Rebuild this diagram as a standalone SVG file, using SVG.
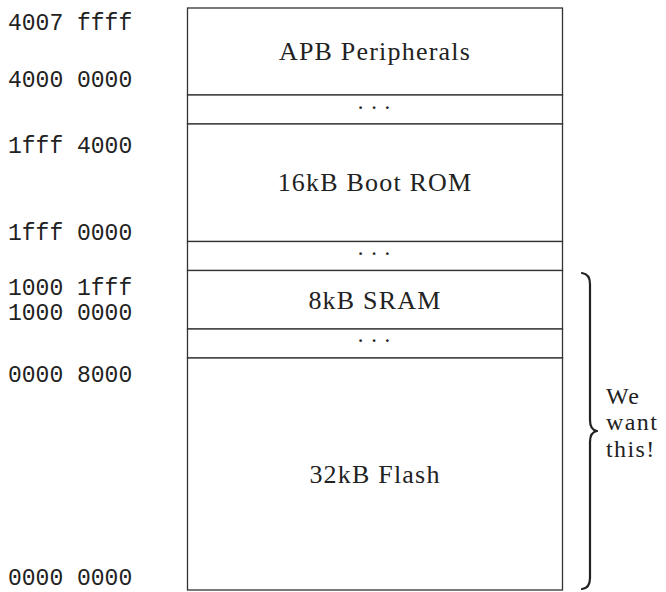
<svg xmlns="http://www.w3.org/2000/svg" width="666" height="592" viewBox="0 0 666 592">
<style>
.addr{font-family:"Liberation Mono","DejaVu Sans Mono",monospace;font-size:23px;fill:#222}
.lbl{font-family:"Liberation Serif","DejaVu Serif",serif;font-size:26px;letter-spacing:1.2px;fill:#222;text-anchor:middle}
.dots{font-family:"Liberation Serif","DejaVu Serif",serif;font-size:23px;fill:#222;text-anchor:middle}
.side{font-family:"Liberation Serif","DejaVu Serif",serif;font-size:24px;letter-spacing:1.4px;fill:#222}
.cell{fill:#fff;stroke:#333;stroke-width:1.3}
.brace{fill:none;stroke:#222;stroke-width:2.2;stroke-linecap:round;stroke-linejoin:round}
</style>
<rect width="666" height="592" fill="#fff"/>
<g id="addresses">
<text class="addr" x="8" y="29.5">4007 ffff</text>
<text class="addr" x="8" y="87">4000 0000</text>
<text class="addr" x="8" y="152.5">1fff 4000</text>
<text class="addr" x="8" y="239.5">1fff 0000</text>
<text class="addr" x="8" y="295">1000 1fff</text>
<text class="addr" x="8" y="320">1000 0000</text>
<text class="addr" x="8" y="382">0000 8000</text>
<text class="addr" x="8" y="585">0000 0000</text>
</g>
<g id="apb"><rect class="cell" x="187.5" y="8" width="375" height="87"/><text class="lbl" x="375" y="60">APB Peripherals</text></g>
<g id="gap1"><rect class="cell" x="187.5" y="95" width="375" height="29"/><text class="dots" x="374" y="115">· · ·</text></g>
<g id="bootrom"><rect class="cell" x="187.5" y="124" width="375" height="117.5"/><text class="lbl" x="375" y="191">16kB Boot ROM</text></g>
<g id="gap2"><rect class="cell" x="187.5" y="241.5" width="375" height="29"/><text class="dots" x="374" y="261">· · ·</text></g>
<g id="sram"><rect class="cell" x="187.5" y="270.5" width="375" height="58.5"/><text class="lbl" x="375" y="309">8kB SRAM</text></g>
<g id="gap3"><rect class="cell" x="187.5" y="329" width="375" height="29"/><text class="dots" x="374" y="348">· · ·</text></g>
<g id="flash"><rect class="cell" x="187.5" y="358" width="375" height="232"/><text class="lbl" x="375" y="483">32kB Flash</text></g>
<g id="connectors">
<path class="brace" d="M582,273 Q590,274 590,284 L590,420 Q590,430 597,431 Q590,432 590,442 L590,578 Q590,588 582,589"/>
</g>
<g id="note">
<text class="side" x="606" y="403.5">We</text>
<text class="side" x="606" y="430">want</text>
<text class="side" x="606" y="456.5">this!</text>
</g>
</svg>
